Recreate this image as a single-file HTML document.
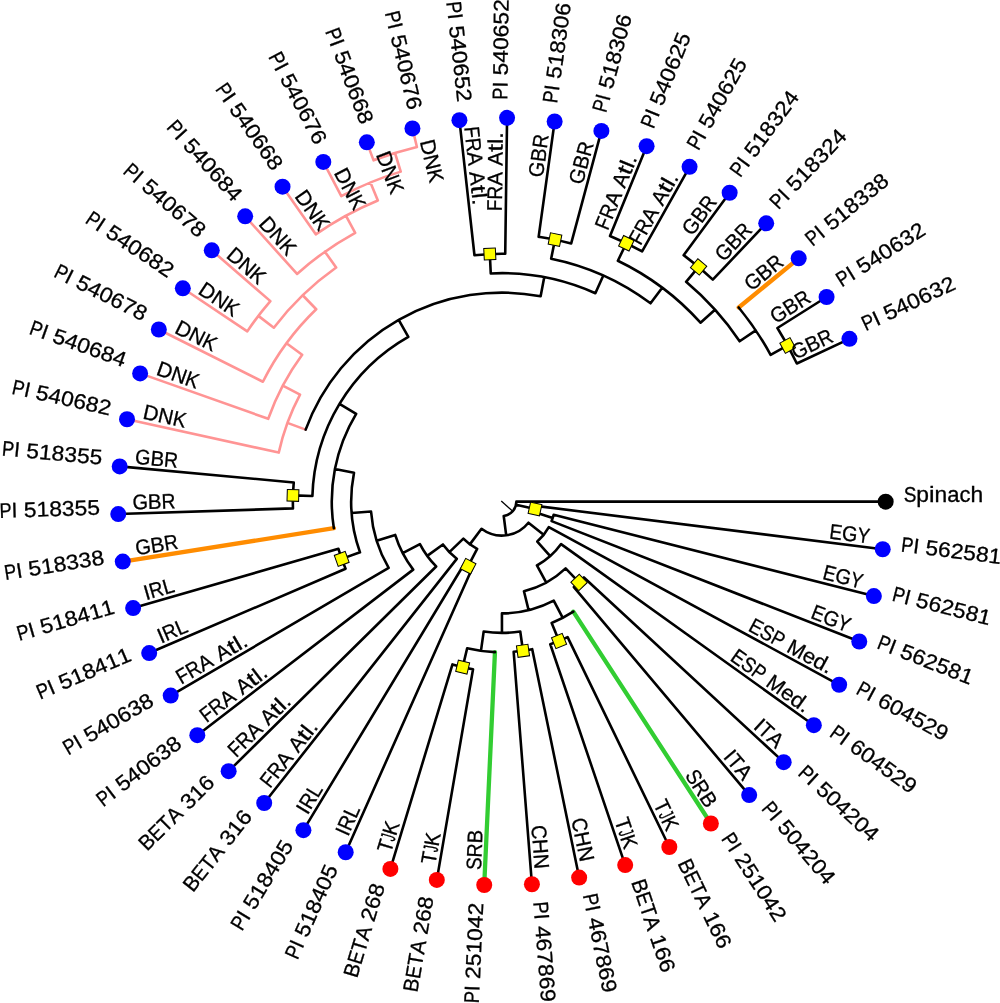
<!DOCTYPE html><html><head><meta charset="utf-8"><style>html,body{margin:0;padding:0;background:#fff;overflow:hidden}svg{display:block;will-change:transform}text{font-family:"Liberation Sans",sans-serif}</style></head><body><svg width="1000" height="1003" viewBox="0 0 1000 1003"><line x1="501.27" y1="501.1" x2="512.76" y2="511.21" stroke="#000" stroke-width="1.3"/><path d="M573.32,611.67L710.87,823.53" fill="none" stroke="#32cd32" stroke-width="4.3" stroke-linecap="round"/><path d="M494.95,652.12L484.23,885.02" fill="none" stroke="#32cd32" stroke-width="4.3" stroke-linecap="round"/><path d="M333.86,528.19L122.78,561.56" fill="none" stroke="#ff8c00" stroke-width="4.3" stroke-linecap="round"/><path d="M738.71,307.48L798.69,258.31" fill="none" stroke="#ff8c00" stroke-width="4.3" stroke-linecap="round"/><path d="M278.74,452.6A228.45,228.45 0 0 1 300.02,394.64M268.22,418.8A247.9,247.9 0 0 1 302.16,354.76M262.91,381.73A267.35,267.35 0 0 1 316.21,309.26M273.83,327.7A286.8,286.8 0 0 1 336.15,267.55M247.29,331.39A306.25,306.25 0 0 1 270.38,301.13M297.04,273.96A306.25,306.25 0 0 1 355.19,232.79M315.75,234.35A325.7,325.7 0 0 1 377.85,200.47M341.29,196.11A345.15,345.15 0 0 1 400.74,171.63M373.59,160.34A364.6,364.6 0 0 1 416.91,147.07M305.67,429.6L287.42,422.9M300.02,394.64L282.84,385.53M302.16,354.76L286.49,343.24M316.21,309.26L302.71,295.26M273.83,327.7L258.37,315.9M336.15,267.55L324.91,251.68M355.19,232.79L345.88,215.72M377.85,200.47L370.44,182.48M400.74,171.63L395.04,153.03M278.74,452.6L127.01,419.25M268.22,418.8L140.13,373.39M262.91,381.73L158.83,329.51M247.29,331.39L182.83,288.29M270.38,301.13L211.76,250.36M297.04,273.96L245.17,216.31M315.75,234.35L282.54,186.67M341.29,196.11L323.31,161.9M373.59,160.34L366.83,142.37M416.91,147.07L412.44,128.4" fill="none" stroke="#ff9494" stroke-width="2.6" stroke-linecap="round"/><path d="M516.37,501.63A14.5,14.5 0 0 1 503.72,516.01M535.56,505.84A33.95,33.95 0 0 1 534.19,512.02M553.63,514.78A53.4,53.4 0 0 1 551.6,521.09M528.45,522.75A33.95,33.95 0 0 1 481.51,528.8M548.8,527.11A53.4,53.4 0 0 1 537.3,541.58M561.08,544.07A72.85,72.85 0 0 1 536.93,565.49M565.62,568.38A92.3,92.3 0 0 1 523.96,591.25M583.92,577.49A111.75,111.75 0 0 1 573.88,587.08M553.73,600.62A111.75,111.75 0 0 1 501.94,613.38M573.32,611.67A131.2,131.2 0 0 1 551.67,623.01M567.6,637.18A150.65,150.65 0 0 1 550.28,644.29M520.25,631.54A131.2,131.2 0 0 1 483.66,631.56M532.21,649.19A150.65,150.65 0 0 1 513.67,651.82M494.95,652.12A150.65,150.65 0 0 1 467.16,648.23M473.03,669.27A170.1,170.1 0 0 1 452.46,664.4M477.15,548.96A53.4,53.4 0 0 1 463.38,538.64M472.23,568.18A72.85,72.85 0 0 1 464.2,563.98M456.76,558.83A72.85,72.85 0 0 1 442.94,544.46M436.16,566.45A92.3,92.3 0 0 1 419.93,544.12M413.2,569.64A111.75,111.75 0 0 1 395.2,534.93M388.66,567.94A131.2,131.2 0 0 1 371.04,511.5M360.01,552.34A150.65,150.65 0 0 1 354.01,472.78M345.57,568.73A170.1,170.1 0 0 1 338.45,548.83M333.86,528.19A170.1,170.1 0 0 1 356.16,413.86M312.4,495.99A189.55,189.55 0 0 1 408.31,336.78M292.98,508.4A209,209 0 0 1 293.75,482.44M305.67,429.6A209,209 0 0 1 540.62,296.25M490.77,273.45A228.45,228.45 0 0 1 595.36,293.19M474.46,255.25A247.9,247.9 0 0 1 505.23,253.75M551.15,258.68A247.9,247.9 0 0 1 650.54,303.26M538.63,236.82A267.35,267.35 0 0 1 571.19,243.42M617.88,260.76A267.35,267.35 0 0 1 700.5,322.68M610.02,236A286.8,286.8 0 0 1 642.13,251.47M686.1,281.83A286.8,286.8 0 0 1 739.64,341.26M683.63,255.15A306.25,306.25 0 0 1 712.8,279.6M738.71,307.48A306.25,306.25 0 0 1 770.61,354.77M777.42,327.99A325.7,325.7 0 0 1 796.83,363.51M516.03,504.76L535.02,508.96M534.19,512.02L552.71,517.97M503.72,516.01L506.21,535.3M528.45,522.75L543.68,534.85M537.3,541.58L550.21,556.13M536.93,565.49L546.28,582.54M565.62,568.38L579.05,582.44M523.96,591.25L528.61,610.13M553.73,600.62L562.76,617.85M551.67,623.01L559.05,641.01M501.94,613.38L501.96,632.83M520.25,631.54L522.98,650.79M483.66,631.56L480.96,650.82M467.16,648.23L462.67,667.15M481.51,528.8L469.85,544.36M477.15,548.96L468.15,566.21M463.38,538.64L449.36,552.12M442.94,544.46L427.21,555.9M419.93,544.12L402.67,553.08M395.2,534.93L376.63,540.73M371.04,511.5L351.65,512.97M360.01,552.34L341.7,558.89M354.01,472.78L334.92,469.06M356.16,413.86L339.5,403.82M312.4,495.99L292.96,495.41M408.31,336.78L398.71,319.86M540.62,296.25L544.23,277.14M490.77,273.45L489.82,254.02M595.36,293.19L603.32,275.44M551.15,258.68L555.01,239.61M650.54,303.26L662.21,287.7M617.88,260.76L626.32,243.24M700.5,322.68L714.95,309.67M686.1,281.83L698.59,266.92M739.64,341.26L755.77,330.38M770.61,354.77L787.68,345.45M516.37,501.63L885.67,501.63M535.56,505.84L882.71,549.24M553.63,514.78L873.86,596.11M551.6,521.09L859.27,641.53M548.8,527.11L839.15,684.78M561.08,544.07L813.83,725.2M583.92,577.49L783.68,762.17M573.88,587.08L749.19,795.12M567.6,637.18L669.33,846.97M550.28,644.29L625.19,865.08M532.21,649.19L579.16,877.57M513.67,651.82L531.93,884.25M473.03,669.27L436.81,879.88M452.46,664.4L390.39,868.88M472.23,568.18L345.7,852.22M464.2,563.98L303.41,830.14M456.76,558.83L264.2,802.98M436.16,566.45L228.65,771.17M413.2,569.64L197.32,735.2M388.66,567.94L170.7,695.62M345.57,568.73L149.2,653.04M338.45,548.83L133.14,608.12M292.98,508.4L118.27,514.07M293.75,482.44L119.69,466.39M474.46,255.25L459.43,120.18M505.23,253.75L507.07,117.87M538.63,236.82L554.64,121.47M571.19,243.42L601.39,130.96M610.02,236L646.6,146.16M642.13,251.47L689.57,166.86M683.63,255.15L729.65,192.73M712.8,279.6L766.21,223.37M777.42,327.99L826.58,297.01M796.83,363.51L849.45,338.87" fill="none" stroke="#000" stroke-width="2.6" stroke-linecap="round"/><rect x="-5.8" y="-5.8" width="11.6" height="11.6" fill="#ff0" stroke="#000" stroke-width="1" transform="translate(292.96,495.41) rotate(181.71)"/><rect x="-5.8" y="-5.8" width="11.6" height="11.6" fill="#ff0" stroke="#000" stroke-width="1" transform="translate(559.05,641.01) rotate(67.69)"/><rect x="-5.8" y="-5.8" width="11.6" height="11.6" fill="#ff0" stroke="#000" stroke-width="1" transform="translate(522.98,650.79) rotate(81.95)"/><rect x="-5.8" y="-5.8" width="11.6" height="11.6" fill="#ff0" stroke="#000" stroke-width="1" transform="translate(341.7,558.89) rotate(160.33)"/><rect x="-5.8" y="-5.8" width="11.6" height="11.6" fill="#ff0" stroke="#000" stroke-width="1" transform="translate(535.02,508.96) rotate(12.47)"/><rect x="-5.8" y="-5.8" width="11.6" height="11.6" fill="#ff0" stroke="#000" stroke-width="1" transform="translate(462.67,667.15) rotate(103.32)"/><rect x="-5.8" y="-5.8" width="11.6" height="11.6" fill="#ff0" stroke="#000" stroke-width="1" transform="translate(579.05,582.44) rotate(46.32)"/><rect x="-5.8" y="-5.8" width="11.6" height="11.6" fill="#ff0" stroke="#000" stroke-width="1" transform="translate(489.82,254.02) rotate(267.21)"/><rect x="-5.8" y="-5.8" width="11.6" height="11.6" fill="#ff0" stroke="#000" stroke-width="1" transform="translate(626.32,243.24) rotate(295.72)"/><rect x="-5.8" y="-5.8" width="11.6" height="11.6" fill="#ff0" stroke="#000" stroke-width="1" transform="translate(555.01,239.61) rotate(281.47)"/><rect x="-5.8" y="-5.8" width="11.6" height="11.6" fill="#ff0" stroke="#000" stroke-width="1" transform="translate(787.68,345.45) rotate(331.35)"/><rect x="-5.8" y="-5.8" width="11.6" height="11.6" fill="#ff0" stroke="#000" stroke-width="1" transform="translate(468.15,566.21) rotate(117.57)"/><rect x="-5.8" y="-5.8" width="11.6" height="11.6" fill="#ff0" stroke="#000" stroke-width="1" transform="translate(698.59,266.92) rotate(309.97)"/><circle cx="885.67" cy="501.63" r="8.0" fill="#000"/><circle cx="882.71" cy="549.24" r="8.0" fill="#00f"/><circle cx="873.86" cy="596.11" r="8.0" fill="#00f"/><circle cx="859.27" cy="641.53" r="8.0" fill="#00f"/><circle cx="839.15" cy="684.78" r="8.0" fill="#00f"/><circle cx="813.83" cy="725.2" r="8.0" fill="#00f"/><circle cx="783.68" cy="762.17" r="8.0" fill="#00f"/><circle cx="749.19" cy="795.12" r="8.0" fill="#00f"/><circle cx="710.87" cy="823.53" r="8.0" fill="#f00"/><circle cx="669.33" cy="846.97" r="8.0" fill="#f00"/><circle cx="625.19" cy="865.08" r="8.0" fill="#f00"/><circle cx="579.16" cy="877.57" r="8.0" fill="#f00"/><circle cx="531.93" cy="884.25" r="8.0" fill="#f00"/><circle cx="484.23" cy="885.02" r="8.0" fill="#f00"/><circle cx="436.81" cy="879.88" r="8.0" fill="#f00"/><circle cx="390.39" cy="868.88" r="8.0" fill="#f00"/><circle cx="345.7" cy="852.22" r="8.0" fill="#00f"/><circle cx="303.41" cy="830.14" r="8.0" fill="#00f"/><circle cx="264.2" cy="802.98" r="8.0" fill="#00f"/><circle cx="228.65" cy="771.17" r="8.0" fill="#00f"/><circle cx="197.32" cy="735.2" r="8.0" fill="#00f"/><circle cx="170.7" cy="695.62" r="8.0" fill="#00f"/><circle cx="149.2" cy="653.04" r="8.0" fill="#00f"/><circle cx="133.14" cy="608.12" r="8.0" fill="#00f"/><circle cx="122.78" cy="561.56" r="8.0" fill="#00f"/><circle cx="118.27" cy="514.07" r="8.0" fill="#00f"/><circle cx="119.69" cy="466.39" r="8.0" fill="#00f"/><circle cx="127.01" cy="419.25" r="8.0" fill="#00f"/><circle cx="140.13" cy="373.39" r="8.0" fill="#00f"/><circle cx="158.83" cy="329.51" r="8.0" fill="#00f"/><circle cx="182.83" cy="288.29" r="8.0" fill="#00f"/><circle cx="211.76" cy="250.36" r="8.0" fill="#00f"/><circle cx="245.17" cy="216.31" r="8.0" fill="#00f"/><circle cx="282.54" cy="186.67" r="8.0" fill="#00f"/><circle cx="323.31" cy="161.9" r="8.0" fill="#00f"/><circle cx="366.83" cy="142.37" r="8.0" fill="#00f"/><circle cx="412.44" cy="128.4" r="8.0" fill="#00f"/><circle cx="459.43" cy="120.18" r="8.0" fill="#00f"/><circle cx="507.07" cy="117.87" r="8.0" fill="#00f"/><circle cx="554.64" cy="121.47" r="8.0" fill="#00f"/><circle cx="601.39" cy="130.96" r="8.0" fill="#00f"/><circle cx="646.6" cy="146.16" r="8.0" fill="#00f"/><circle cx="689.57" cy="166.86" r="8.0" fill="#00f"/><circle cx="729.65" cy="192.73" r="8.0" fill="#00f"/><circle cx="766.21" cy="223.37" r="8.0" fill="#00f"/><circle cx="798.69" cy="258.31" r="8.0" fill="#00f"/><circle cx="826.58" cy="297.01" r="8.0" fill="#00f"/><circle cx="849.45" cy="338.87" r="8.0" fill="#00f"/><g font-size="21.2" fill="#000" stroke="#000" stroke-width="0.3"><text transform="translate(903.67,501.63) rotate(0)"><tspan x="0" textLength="12.7" lengthAdjust="spacingAndGlyphs">S</tspan><tspan x="12.7" textLength="12.7" lengthAdjust="spacingAndGlyphs">p</tspan><tspan x="25.39" textLength="5.56" lengthAdjust="spacingAndGlyphs">i</tspan><tspan x="30.95" textLength="12.68" lengthAdjust="spacingAndGlyphs">n</tspan><tspan x="43.62" textLength="12.26" lengthAdjust="spacingAndGlyphs">a</tspan><tspan x="55.88" textLength="11" lengthAdjust="spacingAndGlyphs">c</tspan><tspan x="66.88" textLength="12.68" lengthAdjust="spacingAndGlyphs">h</tspan></text><text transform="translate(900.57,551.47) rotate(7.13)"><tspan x="0" textLength="12.06" lengthAdjust="spacingAndGlyphs">P</tspan><tspan x="12.06" textLength="5.9" lengthAdjust="spacingAndGlyphs">I</tspan><tspan x="24.32" textLength="12.72" lengthAdjust="spacingAndGlyphs">5</tspan><tspan x="37.04" textLength="12.72" lengthAdjust="spacingAndGlyphs">6</tspan><tspan x="49.77" textLength="12.72" lengthAdjust="spacingAndGlyphs">2</tspan><tspan x="62.49" textLength="12.72" lengthAdjust="spacingAndGlyphs">5</tspan><tspan x="75.21" textLength="12.72" lengthAdjust="spacingAndGlyphs">8</tspan><tspan x="87.94" textLength="12.72" lengthAdjust="spacingAndGlyphs">1</tspan></text><text transform="translate(828.77,538.47) rotate(7.13)"><tspan x="0" textLength="12.64" lengthAdjust="spacingAndGlyphs">E</tspan><tspan x="12.64" textLength="15.5" lengthAdjust="spacingAndGlyphs">G</tspan><tspan x="28.13" textLength="12.22" lengthAdjust="spacingAndGlyphs">Y</tspan></text><text transform="translate(891.3,600.54) rotate(14.25)"><tspan x="0" textLength="12.06" lengthAdjust="spacingAndGlyphs">P</tspan><tspan x="12.06" textLength="5.9" lengthAdjust="spacingAndGlyphs">I</tspan><tspan x="24.32" textLength="12.72" lengthAdjust="spacingAndGlyphs">5</tspan><tspan x="37.04" textLength="12.72" lengthAdjust="spacingAndGlyphs">6</tspan><tspan x="49.77" textLength="12.72" lengthAdjust="spacingAndGlyphs">2</tspan><tspan x="62.49" textLength="12.72" lengthAdjust="spacingAndGlyphs">5</tspan><tspan x="75.21" textLength="12.72" lengthAdjust="spacingAndGlyphs">8</tspan><tspan x="87.94" textLength="12.72" lengthAdjust="spacingAndGlyphs">1</tspan></text><text transform="translate(821.68,578.73) rotate(14.25)"><tspan x="0" textLength="12.64" lengthAdjust="spacingAndGlyphs">E</tspan><tspan x="12.64" textLength="15.5" lengthAdjust="spacingAndGlyphs">G</tspan><tspan x="28.13" textLength="12.22" lengthAdjust="spacingAndGlyphs">Y</tspan></text><text transform="translate(876.03,648.09) rotate(21.38)"><tspan x="0" textLength="12.06" lengthAdjust="spacingAndGlyphs">P</tspan><tspan x="12.06" textLength="5.9" lengthAdjust="spacingAndGlyphs">I</tspan><tspan x="24.32" textLength="12.72" lengthAdjust="spacingAndGlyphs">5</tspan><tspan x="37.04" textLength="12.72" lengthAdjust="spacingAndGlyphs">6</tspan><tspan x="49.77" textLength="12.72" lengthAdjust="spacingAndGlyphs">2</tspan><tspan x="62.49" textLength="12.72" lengthAdjust="spacingAndGlyphs">5</tspan><tspan x="75.21" textLength="12.72" lengthAdjust="spacingAndGlyphs">8</tspan><tspan x="87.94" textLength="12.72" lengthAdjust="spacingAndGlyphs">1</tspan></text><text transform="translate(809.65,617.81) rotate(21.38)"><tspan x="0" textLength="12.64" lengthAdjust="spacingAndGlyphs">E</tspan><tspan x="12.64" textLength="15.5" lengthAdjust="spacingAndGlyphs">G</tspan><tspan x="28.13" textLength="12.22" lengthAdjust="spacingAndGlyphs">Y</tspan></text><text transform="translate(854.97,693.37) rotate(28.5)"><tspan x="0" textLength="12.06" lengthAdjust="spacingAndGlyphs">P</tspan><tspan x="12.06" textLength="5.9" lengthAdjust="spacingAndGlyphs">I</tspan><tspan x="24.32" textLength="12.72" lengthAdjust="spacingAndGlyphs">6</tspan><tspan x="37.04" textLength="12.72" lengthAdjust="spacingAndGlyphs">0</tspan><tspan x="49.77" textLength="12.72" lengthAdjust="spacingAndGlyphs">4</tspan><tspan x="62.49" textLength="12.72" lengthAdjust="spacingAndGlyphs">5</tspan><tspan x="75.21" textLength="12.72" lengthAdjust="spacingAndGlyphs">2</tspan><tspan x="87.94" textLength="12.72" lengthAdjust="spacingAndGlyphs">9</tspan></text><text transform="translate(747.15,630.27) rotate(28.5)"><tspan x="0" textLength="12.64" lengthAdjust="spacingAndGlyphs">E</tspan><tspan x="12.64" textLength="12.7" lengthAdjust="spacingAndGlyphs">S</tspan><tspan x="25.33" textLength="12.06" lengthAdjust="spacingAndGlyphs">P</tspan><tspan x="43.75" textLength="17.26" lengthAdjust="spacingAndGlyphs">M</tspan><tspan x="61.01" textLength="12.3" lengthAdjust="spacingAndGlyphs">e</tspan><tspan x="73.31" textLength="12.7" lengthAdjust="spacingAndGlyphs">d</tspan><tspan x="86.01" textLength="6.36" lengthAdjust="spacingAndGlyphs">.</tspan></text><text transform="translate(828.46,735.69) rotate(35.63)"><tspan x="0" textLength="12.06" lengthAdjust="spacingAndGlyphs">P</tspan><tspan x="12.06" textLength="5.9" lengthAdjust="spacingAndGlyphs">I</tspan><tspan x="24.32" textLength="12.72" lengthAdjust="spacingAndGlyphs">6</tspan><tspan x="37.04" textLength="12.72" lengthAdjust="spacingAndGlyphs">0</tspan><tspan x="49.77" textLength="12.72" lengthAdjust="spacingAndGlyphs">4</tspan><tspan x="62.49" textLength="12.72" lengthAdjust="spacingAndGlyphs">5</tspan><tspan x="75.21" textLength="12.72" lengthAdjust="spacingAndGlyphs">2</tspan><tspan x="87.94" textLength="12.72" lengthAdjust="spacingAndGlyphs">9</tspan></text><text transform="translate(729.3,659.7) rotate(35.63)"><tspan x="0" textLength="12.64" lengthAdjust="spacingAndGlyphs">E</tspan><tspan x="12.64" textLength="12.7" lengthAdjust="spacingAndGlyphs">S</tspan><tspan x="25.33" textLength="12.06" lengthAdjust="spacingAndGlyphs">P</tspan><tspan x="43.75" textLength="17.26" lengthAdjust="spacingAndGlyphs">M</tspan><tspan x="61.01" textLength="12.3" lengthAdjust="spacingAndGlyphs">e</tspan><tspan x="73.31" textLength="12.7" lengthAdjust="spacingAndGlyphs">d</tspan><tspan x="86.01" textLength="6.36" lengthAdjust="spacingAndGlyphs">.</tspan></text><text transform="translate(796.9,774.39) rotate(42.75)"><tspan x="0" textLength="12.06" lengthAdjust="spacingAndGlyphs">P</tspan><tspan x="12.06" textLength="5.9" lengthAdjust="spacingAndGlyphs">I</tspan><tspan x="24.32" textLength="12.72" lengthAdjust="spacingAndGlyphs">5</tspan><tspan x="37.04" textLength="12.72" lengthAdjust="spacingAndGlyphs">0</tspan><tspan x="49.77" textLength="12.72" lengthAdjust="spacingAndGlyphs">4</tspan><tspan x="62.49" textLength="12.72" lengthAdjust="spacingAndGlyphs">2</tspan><tspan x="75.21" textLength="12.72" lengthAdjust="spacingAndGlyphs">0</tspan><tspan x="87.94" textLength="12.72" lengthAdjust="spacingAndGlyphs">4</tspan></text><text transform="translate(752.4,727.81) rotate(42.75)"><tspan x="0" textLength="5.9" lengthAdjust="spacingAndGlyphs">I</tspan><tspan x="5.9" textLength="12.22" lengthAdjust="spacingAndGlyphs">T</tspan><tspan x="18.12" textLength="13.68" lengthAdjust="spacingAndGlyphs">A</tspan></text><text transform="translate(760.79,808.88) rotate(49.88)"><tspan x="0" textLength="12.06" lengthAdjust="spacingAndGlyphs">P</tspan><tspan x="12.06" textLength="5.9" lengthAdjust="spacingAndGlyphs">I</tspan><tspan x="24.32" textLength="12.72" lengthAdjust="spacingAndGlyphs">5</tspan><tspan x="37.04" textLength="12.72" lengthAdjust="spacingAndGlyphs">0</tspan><tspan x="49.77" textLength="12.72" lengthAdjust="spacingAndGlyphs">4</tspan><tspan x="62.49" textLength="12.72" lengthAdjust="spacingAndGlyphs">2</tspan><tspan x="75.21" textLength="12.72" lengthAdjust="spacingAndGlyphs">0</tspan><tspan x="87.94" textLength="12.72" lengthAdjust="spacingAndGlyphs">4</tspan></text><text transform="translate(722.41,757.14) rotate(49.88)"><tspan x="0" textLength="5.9" lengthAdjust="spacingAndGlyphs">I</tspan><tspan x="5.9" textLength="12.22" lengthAdjust="spacingAndGlyphs">T</tspan><tspan x="18.12" textLength="13.68" lengthAdjust="spacingAndGlyphs">A</tspan></text><text transform="translate(720.67,838.63) rotate(57.01)"><tspan x="0" textLength="12.06" lengthAdjust="spacingAndGlyphs">P</tspan><tspan x="12.06" textLength="5.9" lengthAdjust="spacingAndGlyphs">I</tspan><tspan x="24.32" textLength="12.72" lengthAdjust="spacingAndGlyphs">2</tspan><tspan x="37.04" textLength="12.72" lengthAdjust="spacingAndGlyphs">5</tspan><tspan x="49.77" textLength="12.72" lengthAdjust="spacingAndGlyphs">1</tspan><tspan x="62.49" textLength="12.72" lengthAdjust="spacingAndGlyphs">0</tspan><tspan x="75.21" textLength="12.72" lengthAdjust="spacingAndGlyphs">4</tspan><tspan x="87.94" textLength="12.72" lengthAdjust="spacingAndGlyphs">2</tspan></text><text transform="translate(684.38,775.38) rotate(57.01)"><tspan x="0" textLength="12.7" lengthAdjust="spacingAndGlyphs">S</tspan><tspan x="12.7" textLength="13.9" lengthAdjust="spacingAndGlyphs">R</tspan><tspan x="26.59" textLength="13.72" lengthAdjust="spacingAndGlyphs">B</tspan></text><text transform="translate(677.18,863.17) rotate(64.13)"><tspan x="0" textLength="13.72" lengthAdjust="spacingAndGlyphs">B</tspan><tspan x="13.72" textLength="12.64" lengthAdjust="spacingAndGlyphs">E</tspan><tspan x="26.36" textLength="12.22" lengthAdjust="spacingAndGlyphs">T</tspan><tspan x="38.57" textLength="13.68" lengthAdjust="spacingAndGlyphs">A</tspan><tspan x="58.61" textLength="12.72" lengthAdjust="spacingAndGlyphs">1</tspan><tspan x="71.34" textLength="12.72" lengthAdjust="spacingAndGlyphs">6</tspan><tspan x="84.06" textLength="12.72" lengthAdjust="spacingAndGlyphs">6</tspan></text><text transform="translate(652.97,804.08) rotate(64.13)"><tspan x="0" textLength="12.22" lengthAdjust="spacingAndGlyphs">T</tspan><tspan x="12.22" textLength="5.9" lengthAdjust="spacingAndGlyphs">J</tspan><tspan x="18.12" textLength="13.12" lengthAdjust="spacingAndGlyphs">K</tspan></text><text transform="translate(630.98,882.12) rotate(71.26)"><tspan x="0" textLength="13.72" lengthAdjust="spacingAndGlyphs">B</tspan><tspan x="13.72" textLength="12.64" lengthAdjust="spacingAndGlyphs">E</tspan><tspan x="26.36" textLength="12.22" lengthAdjust="spacingAndGlyphs">T</tspan><tspan x="38.57" textLength="13.68" lengthAdjust="spacingAndGlyphs">A</tspan><tspan x="58.61" textLength="12.72" lengthAdjust="spacingAndGlyphs">1</tspan><tspan x="71.34" textLength="12.72" lengthAdjust="spacingAndGlyphs">6</tspan><tspan x="84.06" textLength="12.72" lengthAdjust="spacingAndGlyphs">6</tspan></text><text transform="translate(614.29,820.49) rotate(71.26)"><tspan x="0" textLength="12.22" lengthAdjust="spacingAndGlyphs">T</tspan><tspan x="12.22" textLength="5.9" lengthAdjust="spacingAndGlyphs">J</tspan><tspan x="18.12" textLength="13.12" lengthAdjust="spacingAndGlyphs">K</tspan></text><text transform="translate(582.78,895.2) rotate(78.38)"><tspan x="0" textLength="12.06" lengthAdjust="spacingAndGlyphs">P</tspan><tspan x="12.06" textLength="5.9" lengthAdjust="spacingAndGlyphs">I</tspan><tspan x="24.32" textLength="12.72" lengthAdjust="spacingAndGlyphs">4</tspan><tspan x="37.04" textLength="12.72" lengthAdjust="spacingAndGlyphs">6</tspan><tspan x="49.77" textLength="12.72" lengthAdjust="spacingAndGlyphs">7</tspan><tspan x="62.49" textLength="12.72" lengthAdjust="spacingAndGlyphs">8</tspan><tspan x="75.21" textLength="12.72" lengthAdjust="spacingAndGlyphs">6</tspan><tspan x="87.94" textLength="12.72" lengthAdjust="spacingAndGlyphs">9</tspan></text><text transform="translate(571.3,819.5) rotate(78.38)"><tspan x="0" textLength="13.96" lengthAdjust="spacingAndGlyphs">C</tspan><tspan x="13.96" textLength="15.04" lengthAdjust="spacingAndGlyphs">H</tspan><tspan x="29" textLength="14.96" lengthAdjust="spacingAndGlyphs">N</tspan></text><text transform="translate(533.34,902.2) rotate(85.51)"><tspan x="0" textLength="12.06" lengthAdjust="spacingAndGlyphs">P</tspan><tspan x="12.06" textLength="5.9" lengthAdjust="spacingAndGlyphs">I</tspan><tspan x="24.32" textLength="12.72" lengthAdjust="spacingAndGlyphs">4</tspan><tspan x="37.04" textLength="12.72" lengthAdjust="spacingAndGlyphs">6</tspan><tspan x="49.77" textLength="12.72" lengthAdjust="spacingAndGlyphs">7</tspan><tspan x="62.49" textLength="12.72" lengthAdjust="spacingAndGlyphs">8</tspan><tspan x="75.21" textLength="12.72" lengthAdjust="spacingAndGlyphs">6</tspan><tspan x="87.94" textLength="12.72" lengthAdjust="spacingAndGlyphs">9</tspan></text><text transform="translate(531.34,825.65) rotate(85.51)"><tspan x="0" textLength="13.96" lengthAdjust="spacingAndGlyphs">C</tspan><tspan x="13.96" textLength="15.04" lengthAdjust="spacingAndGlyphs">H</tspan><tspan x="29" textLength="14.96" lengthAdjust="spacingAndGlyphs">N</tspan></text><text transform="translate(478.78,1003.56) rotate(272.63)"><tspan x="0" textLength="12.06" lengthAdjust="spacingAndGlyphs">P</tspan><tspan x="12.06" textLength="5.9" lengthAdjust="spacingAndGlyphs">I</tspan><tspan x="24.32" textLength="12.72" lengthAdjust="spacingAndGlyphs">2</tspan><tspan x="37.04" textLength="12.72" lengthAdjust="spacingAndGlyphs">5</tspan><tspan x="49.77" textLength="12.72" lengthAdjust="spacingAndGlyphs">1</tspan><tspan x="62.49" textLength="12.72" lengthAdjust="spacingAndGlyphs">0</tspan><tspan x="75.21" textLength="12.72" lengthAdjust="spacingAndGlyphs">4</tspan><tspan x="87.94" textLength="12.72" lengthAdjust="spacingAndGlyphs">2</tspan></text><text transform="translate(480.9,870.36) rotate(272.63)"><tspan x="0" textLength="12.7" lengthAdjust="spacingAndGlyphs">S</tspan><tspan x="12.7" textLength="13.9" lengthAdjust="spacingAndGlyphs">R</tspan><tspan x="26.59" textLength="13.72" lengthAdjust="spacingAndGlyphs">B</tspan></text><text transform="translate(417.35,993) rotate(279.76)"><tspan x="0" textLength="13.72" lengthAdjust="spacingAndGlyphs">B</tspan><tspan x="13.72" textLength="12.64" lengthAdjust="spacingAndGlyphs">E</tspan><tspan x="26.36" textLength="12.22" lengthAdjust="spacingAndGlyphs">T</tspan><tspan x="38.57" textLength="13.68" lengthAdjust="spacingAndGlyphs">A</tspan><tspan x="58.61" textLength="12.72" lengthAdjust="spacingAndGlyphs">2</tspan><tspan x="71.34" textLength="12.72" lengthAdjust="spacingAndGlyphs">6</tspan><tspan x="84.06" textLength="12.72" lengthAdjust="spacingAndGlyphs">8</tspan></text><text transform="translate(435.32,864.91) rotate(279.76)"><tspan x="0" textLength="12.22" lengthAdjust="spacingAndGlyphs">T</tspan><tspan x="12.22" textLength="5.9" lengthAdjust="spacingAndGlyphs">J</tspan><tspan x="18.12" textLength="13.12" lengthAdjust="spacingAndGlyphs">K</tspan></text><text transform="translate(357.05,978.72) rotate(286.89)"><tspan x="0" textLength="13.72" lengthAdjust="spacingAndGlyphs">B</tspan><tspan x="13.72" textLength="12.64" lengthAdjust="spacingAndGlyphs">E</tspan><tspan x="26.36" textLength="12.22" lengthAdjust="spacingAndGlyphs">T</tspan><tspan x="38.57" textLength="13.68" lengthAdjust="spacingAndGlyphs">A</tspan><tspan x="58.61" textLength="12.72" lengthAdjust="spacingAndGlyphs">2</tspan><tspan x="71.34" textLength="12.72" lengthAdjust="spacingAndGlyphs">6</tspan><tspan x="84.06" textLength="12.72" lengthAdjust="spacingAndGlyphs">8</tspan></text><text transform="translate(390.78,853.85) rotate(286.89)"><tspan x="0" textLength="12.22" lengthAdjust="spacingAndGlyphs">T</tspan><tspan x="12.22" textLength="5.9" lengthAdjust="spacingAndGlyphs">J</tspan><tspan x="18.12" textLength="13.12" lengthAdjust="spacingAndGlyphs">K</tspan></text><text transform="translate(297.41,960.61) rotate(294.01)"><tspan x="0" textLength="12.06" lengthAdjust="spacingAndGlyphs">P</tspan><tspan x="12.06" textLength="5.9" lengthAdjust="spacingAndGlyphs">I</tspan><tspan x="24.32" textLength="12.72" lengthAdjust="spacingAndGlyphs">5</tspan><tspan x="37.04" textLength="12.72" lengthAdjust="spacingAndGlyphs">1</tspan><tspan x="49.77" textLength="12.72" lengthAdjust="spacingAndGlyphs">8</tspan><tspan x="62.49" textLength="12.72" lengthAdjust="spacingAndGlyphs">4</tspan><tspan x="75.21" textLength="12.72" lengthAdjust="spacingAndGlyphs">0</tspan><tspan x="87.94" textLength="12.72" lengthAdjust="spacingAndGlyphs">5</tspan></text><text transform="translate(347.94,837.35) rotate(294.01)"><tspan x="0" textLength="5.9" lengthAdjust="spacingAndGlyphs">I</tspan><tspan x="5.9" textLength="13.9" lengthAdjust="spacingAndGlyphs">R</tspan><tspan x="19.79" textLength="11.14" lengthAdjust="spacingAndGlyphs">L</tspan></text><text transform="translate(242.05,931.71) rotate(301.14)"><tspan x="0" textLength="12.06" lengthAdjust="spacingAndGlyphs">P</tspan><tspan x="12.06" textLength="5.9" lengthAdjust="spacingAndGlyphs">I</tspan><tspan x="24.32" textLength="12.72" lengthAdjust="spacingAndGlyphs">5</tspan><tspan x="37.04" textLength="12.72" lengthAdjust="spacingAndGlyphs">1</tspan><tspan x="49.77" textLength="12.72" lengthAdjust="spacingAndGlyphs">8</tspan><tspan x="62.49" textLength="12.72" lengthAdjust="spacingAndGlyphs">4</tspan><tspan x="75.21" textLength="12.72" lengthAdjust="spacingAndGlyphs">0</tspan><tspan x="87.94" textLength="12.72" lengthAdjust="spacingAndGlyphs">5</tspan></text><text transform="translate(307.49,815.66) rotate(301.14)"><tspan x="0" textLength="5.9" lengthAdjust="spacingAndGlyphs">I</tspan><tspan x="5.9" textLength="13.9" lengthAdjust="spacingAndGlyphs">R</tspan><tspan x="19.79" textLength="11.14" lengthAdjust="spacingAndGlyphs">L</tspan></text><text transform="translate(193.11,893.11) rotate(308.26)"><tspan x="0" textLength="13.72" lengthAdjust="spacingAndGlyphs">B</tspan><tspan x="13.72" textLength="12.64" lengthAdjust="spacingAndGlyphs">E</tspan><tspan x="26.36" textLength="12.22" lengthAdjust="spacingAndGlyphs">T</tspan><tspan x="38.57" textLength="13.68" lengthAdjust="spacingAndGlyphs">A</tspan><tspan x="58.61" textLength="12.72" lengthAdjust="spacingAndGlyphs">3</tspan><tspan x="71.34" textLength="12.72" lengthAdjust="spacingAndGlyphs">1</tspan><tspan x="84.06" textLength="12.72" lengthAdjust="spacingAndGlyphs">6</tspan></text><text transform="translate(270.03,789.12) rotate(308.26)"><tspan x="0" textLength="11.5" lengthAdjust="spacingAndGlyphs">F</tspan><tspan x="11.5" textLength="13.9" lengthAdjust="spacingAndGlyphs">R</tspan><tspan x="25.4" textLength="13.68" lengthAdjust="spacingAndGlyphs">A</tspan><tspan x="45.44" textLength="13.68" lengthAdjust="spacingAndGlyphs">A</tspan><tspan x="59.12" textLength="7.84" lengthAdjust="spacingAndGlyphs">t</tspan><tspan x="66.96" textLength="5.56" lengthAdjust="spacingAndGlyphs">l</tspan><tspan x="72.52" textLength="6.36" lengthAdjust="spacingAndGlyphs">.</tspan></text><text transform="translate(146.93,851.79) rotate(315.39)"><tspan x="0" textLength="13.72" lengthAdjust="spacingAndGlyphs">B</tspan><tspan x="13.72" textLength="12.64" lengthAdjust="spacingAndGlyphs">E</tspan><tspan x="26.36" textLength="12.22" lengthAdjust="spacingAndGlyphs">T</tspan><tspan x="38.57" textLength="13.68" lengthAdjust="spacingAndGlyphs">A</tspan><tspan x="58.61" textLength="12.72" lengthAdjust="spacingAndGlyphs">3</tspan><tspan x="71.34" textLength="12.72" lengthAdjust="spacingAndGlyphs">1</tspan><tspan x="84.06" textLength="12.72" lengthAdjust="spacingAndGlyphs">6</tspan></text><text transform="translate(236.16,758.14) rotate(315.39)"><tspan x="0" textLength="11.5" lengthAdjust="spacingAndGlyphs">F</tspan><tspan x="11.5" textLength="13.9" lengthAdjust="spacingAndGlyphs">R</tspan><tspan x="25.4" textLength="13.68" lengthAdjust="spacingAndGlyphs">A</tspan><tspan x="45.44" textLength="13.68" lengthAdjust="spacingAndGlyphs">A</tspan><tspan x="59.12" textLength="7.84" lengthAdjust="spacingAndGlyphs">t</tspan><tspan x="66.96" textLength="5.56" lengthAdjust="spacingAndGlyphs">l</tspan><tspan x="72.52" textLength="6.36" lengthAdjust="spacingAndGlyphs">.</tspan></text><text transform="translate(103.16,807.41) rotate(322.51)"><tspan x="0" textLength="12.06" lengthAdjust="spacingAndGlyphs">P</tspan><tspan x="12.06" textLength="5.9" lengthAdjust="spacingAndGlyphs">I</tspan><tspan x="24.32" textLength="12.72" lengthAdjust="spacingAndGlyphs">5</tspan><tspan x="37.04" textLength="12.72" lengthAdjust="spacingAndGlyphs">4</tspan><tspan x="49.77" textLength="12.72" lengthAdjust="spacingAndGlyphs">0</tspan><tspan x="62.49" textLength="12.72" lengthAdjust="spacingAndGlyphs">6</tspan><tspan x="75.21" textLength="12.72" lengthAdjust="spacingAndGlyphs">3</tspan><tspan x="87.94" textLength="12.72" lengthAdjust="spacingAndGlyphs">8</tspan></text><text transform="translate(206.4,723.2) rotate(322.51)"><tspan x="0" textLength="11.5" lengthAdjust="spacingAndGlyphs">F</tspan><tspan x="11.5" textLength="13.9" lengthAdjust="spacingAndGlyphs">R</tspan><tspan x="25.4" textLength="13.68" lengthAdjust="spacingAndGlyphs">A</tspan><tspan x="45.44" textLength="13.68" lengthAdjust="spacingAndGlyphs">A</tspan><tspan x="59.12" textLength="7.84" lengthAdjust="spacingAndGlyphs">t</tspan><tspan x="66.96" textLength="5.56" lengthAdjust="spacingAndGlyphs">l</tspan><tspan x="72.52" textLength="6.36" lengthAdjust="spacingAndGlyphs">.</tspan></text><text transform="translate(68.31,755.59) rotate(329.64)"><tspan x="0" textLength="12.06" lengthAdjust="spacingAndGlyphs">P</tspan><tspan x="12.06" textLength="5.9" lengthAdjust="spacingAndGlyphs">I</tspan><tspan x="24.32" textLength="12.72" lengthAdjust="spacingAndGlyphs">5</tspan><tspan x="37.04" textLength="12.72" lengthAdjust="spacingAndGlyphs">4</tspan><tspan x="49.77" textLength="12.72" lengthAdjust="spacingAndGlyphs">0</tspan><tspan x="62.49" textLength="12.72" lengthAdjust="spacingAndGlyphs">6</tspan><tspan x="75.21" textLength="12.72" lengthAdjust="spacingAndGlyphs">3</tspan><tspan x="87.94" textLength="12.72" lengthAdjust="spacingAndGlyphs">8</tspan></text><text transform="translate(181.19,684.84) rotate(329.64)"><tspan x="0" textLength="11.5" lengthAdjust="spacingAndGlyphs">F</tspan><tspan x="11.5" textLength="13.9" lengthAdjust="spacingAndGlyphs">R</tspan><tspan x="25.4" textLength="13.68" lengthAdjust="spacingAndGlyphs">A</tspan><tspan x="45.44" textLength="13.68" lengthAdjust="spacingAndGlyphs">A</tspan><tspan x="59.12" textLength="7.84" lengthAdjust="spacingAndGlyphs">t</tspan><tspan x="66.96" textLength="5.56" lengthAdjust="spacingAndGlyphs">l</tspan><tspan x="72.52" textLength="6.36" lengthAdjust="spacingAndGlyphs">.</tspan></text><text transform="translate(40.16,699.85) rotate(336.77)"><tspan x="0" textLength="12.06" lengthAdjust="spacingAndGlyphs">P</tspan><tspan x="12.06" textLength="5.9" lengthAdjust="spacingAndGlyphs">I</tspan><tspan x="24.32" textLength="12.72" lengthAdjust="spacingAndGlyphs">5</tspan><tspan x="37.04" textLength="12.72" lengthAdjust="spacingAndGlyphs">1</tspan><tspan x="49.77" textLength="12.72" lengthAdjust="spacingAndGlyphs">8</tspan><tspan x="62.49" textLength="12.72" lengthAdjust="spacingAndGlyphs">4</tspan><tspan x="75.21" textLength="12.72" lengthAdjust="spacingAndGlyphs">1</tspan><tspan x="87.94" textLength="12.72" lengthAdjust="spacingAndGlyphs">1</tspan></text><text transform="translate(160.94,643.64) rotate(336.77)"><tspan x="0" textLength="5.9" lengthAdjust="spacingAndGlyphs">I</tspan><tspan x="5.9" textLength="13.9" lengthAdjust="spacingAndGlyphs">R</tspan><tspan x="19.79" textLength="11.14" lengthAdjust="spacingAndGlyphs">L</tspan></text><text transform="translate(19.13,641.05) rotate(343.89)"><tspan x="0" textLength="12.06" lengthAdjust="spacingAndGlyphs">P</tspan><tspan x="12.06" textLength="5.9" lengthAdjust="spacingAndGlyphs">I</tspan><tspan x="24.32" textLength="12.72" lengthAdjust="spacingAndGlyphs">5</tspan><tspan x="37.04" textLength="12.72" lengthAdjust="spacingAndGlyphs">1</tspan><tspan x="49.77" textLength="12.72" lengthAdjust="spacingAndGlyphs">8</tspan><tspan x="62.49" textLength="12.72" lengthAdjust="spacingAndGlyphs">4</tspan><tspan x="75.21" textLength="12.72" lengthAdjust="spacingAndGlyphs">1</tspan><tspan x="87.94" textLength="12.72" lengthAdjust="spacingAndGlyphs">1</tspan></text><text transform="translate(145.96,600.25) rotate(343.89)"><tspan x="0" textLength="5.9" lengthAdjust="spacingAndGlyphs">I</tspan><tspan x="5.9" textLength="13.9" lengthAdjust="spacingAndGlyphs">R</tspan><tspan x="19.79" textLength="11.14" lengthAdjust="spacingAndGlyphs">L</tspan></text><text transform="translate(5.57,580.09) rotate(351.02)"><tspan x="0" textLength="12.06" lengthAdjust="spacingAndGlyphs">P</tspan><tspan x="12.06" textLength="5.9" lengthAdjust="spacingAndGlyphs">I</tspan><tspan x="24.32" textLength="12.72" lengthAdjust="spacingAndGlyphs">5</tspan><tspan x="37.04" textLength="12.72" lengthAdjust="spacingAndGlyphs">1</tspan><tspan x="49.77" textLength="12.72" lengthAdjust="spacingAndGlyphs">8</tspan><tspan x="62.49" textLength="12.72" lengthAdjust="spacingAndGlyphs">3</tspan><tspan x="75.21" textLength="12.72" lengthAdjust="spacingAndGlyphs">3</tspan><tspan x="87.94" textLength="12.72" lengthAdjust="spacingAndGlyphs">8</tspan></text><text transform="translate(136.48,555.34) rotate(351.02)"><tspan x="0" textLength="15.5" lengthAdjust="spacingAndGlyphs">G</tspan><tspan x="15.5" textLength="13.72" lengthAdjust="spacingAndGlyphs">B</tspan><tspan x="29.22" textLength="13.9" lengthAdjust="spacingAndGlyphs">R</tspan></text><text transform="translate(-0.33,517.92) rotate(358.14)"><tspan x="0" textLength="12.06" lengthAdjust="spacingAndGlyphs">P</tspan><tspan x="12.06" textLength="5.9" lengthAdjust="spacingAndGlyphs">I</tspan><tspan x="24.32" textLength="12.72" lengthAdjust="spacingAndGlyphs">5</tspan><tspan x="37.04" textLength="12.72" lengthAdjust="spacingAndGlyphs">1</tspan><tspan x="49.77" textLength="12.72" lengthAdjust="spacingAndGlyphs">8</tspan><tspan x="62.49" textLength="12.72" lengthAdjust="spacingAndGlyphs">3</tspan><tspan x="75.21" textLength="12.72" lengthAdjust="spacingAndGlyphs">5</tspan><tspan x="87.94" textLength="12.72" lengthAdjust="spacingAndGlyphs">5</tspan></text><text transform="translate(132.63,509.6) rotate(358.14)"><tspan x="0" textLength="15.5" lengthAdjust="spacingAndGlyphs">G</tspan><tspan x="15.5" textLength="13.72" lengthAdjust="spacingAndGlyphs">B</tspan><tspan x="29.22" textLength="13.9" lengthAdjust="spacingAndGlyphs">R</tspan></text><text transform="translate(1.53,455.49) rotate(365.27)"><tspan x="0" textLength="12.06" lengthAdjust="spacingAndGlyphs">P</tspan><tspan x="12.06" textLength="5.9" lengthAdjust="spacingAndGlyphs">I</tspan><tspan x="24.32" textLength="12.72" lengthAdjust="spacingAndGlyphs">5</tspan><tspan x="37.04" textLength="12.72" lengthAdjust="spacingAndGlyphs">1</tspan><tspan x="49.77" textLength="12.72" lengthAdjust="spacingAndGlyphs">8</tspan><tspan x="62.49" textLength="12.72" lengthAdjust="spacingAndGlyphs">3</tspan><tspan x="75.21" textLength="12.72" lengthAdjust="spacingAndGlyphs">5</tspan><tspan x="87.94" textLength="12.72" lengthAdjust="spacingAndGlyphs">5</tspan></text><text transform="translate(134.5,463.74) rotate(365.27)"><tspan x="0" textLength="15.5" lengthAdjust="spacingAndGlyphs">G</tspan><tspan x="15.5" textLength="13.72" lengthAdjust="spacingAndGlyphs">B</tspan><tspan x="29.22" textLength="13.9" lengthAdjust="spacingAndGlyphs">R</tspan></text><text transform="translate(11.12,393.79) rotate(372.39)"><tspan x="0" textLength="12.06" lengthAdjust="spacingAndGlyphs">P</tspan><tspan x="12.06" textLength="5.9" lengthAdjust="spacingAndGlyphs">I</tspan><tspan x="24.32" textLength="12.72" lengthAdjust="spacingAndGlyphs">5</tspan><tspan x="37.04" textLength="12.72" lengthAdjust="spacingAndGlyphs">4</tspan><tspan x="49.77" textLength="12.72" lengthAdjust="spacingAndGlyphs">0</tspan><tspan x="62.49" textLength="12.72" lengthAdjust="spacingAndGlyphs">6</tspan><tspan x="75.21" textLength="12.72" lengthAdjust="spacingAndGlyphs">8</tspan><tspan x="87.94" textLength="12.72" lengthAdjust="spacingAndGlyphs">2</tspan></text><text transform="translate(142.04,418.46) rotate(372.39)"><tspan x="0" textLength="15.4" lengthAdjust="spacingAndGlyphs">D</tspan><tspan x="15.4" textLength="14.96" lengthAdjust="spacingAndGlyphs">N</tspan><tspan x="30.36" textLength="13.12" lengthAdjust="spacingAndGlyphs">K</tspan></text><text transform="translate(28.28,333.74) rotate(379.52)"><tspan x="0" textLength="12.06" lengthAdjust="spacingAndGlyphs">P</tspan><tspan x="12.06" textLength="5.9" lengthAdjust="spacingAndGlyphs">I</tspan><tspan x="24.32" textLength="12.72" lengthAdjust="spacingAndGlyphs">5</tspan><tspan x="37.04" textLength="12.72" lengthAdjust="spacingAndGlyphs">4</tspan><tspan x="49.77" textLength="12.72" lengthAdjust="spacingAndGlyphs">0</tspan><tspan x="62.49" textLength="12.72" lengthAdjust="spacingAndGlyphs">6</tspan><tspan x="75.21" textLength="12.72" lengthAdjust="spacingAndGlyphs">8</tspan><tspan x="87.94" textLength="12.72" lengthAdjust="spacingAndGlyphs">4</tspan></text><text transform="translate(155.13,374.47) rotate(379.52)"><tspan x="0" textLength="15.4" lengthAdjust="spacingAndGlyphs">D</tspan><tspan x="15.4" textLength="14.96" lengthAdjust="spacingAndGlyphs">N</tspan><tspan x="30.36" textLength="13.12" lengthAdjust="spacingAndGlyphs">K</tspan></text><text transform="translate(52.77,276.29) rotate(386.65)"><tspan x="0" textLength="12.06" lengthAdjust="spacingAndGlyphs">P</tspan><tspan x="12.06" textLength="5.9" lengthAdjust="spacingAndGlyphs">I</tspan><tspan x="24.32" textLength="12.72" lengthAdjust="spacingAndGlyphs">5</tspan><tspan x="37.04" textLength="12.72" lengthAdjust="spacingAndGlyphs">4</tspan><tspan x="49.77" textLength="12.72" lengthAdjust="spacingAndGlyphs">0</tspan><tspan x="62.49" textLength="12.72" lengthAdjust="spacingAndGlyphs">6</tspan><tspan x="75.21" textLength="12.72" lengthAdjust="spacingAndGlyphs">7</tspan><tspan x="87.94" textLength="12.72" lengthAdjust="spacingAndGlyphs">8</tspan></text><text transform="translate(173.58,332.44) rotate(386.65)"><tspan x="0" textLength="15.4" lengthAdjust="spacingAndGlyphs">D</tspan><tspan x="15.4" textLength="14.96" lengthAdjust="spacingAndGlyphs">N</tspan><tspan x="30.36" textLength="13.12" lengthAdjust="spacingAndGlyphs">K</tspan></text><text transform="translate(84.19,222.32) rotate(393.77)"><tspan x="0" textLength="12.06" lengthAdjust="spacingAndGlyphs">P</tspan><tspan x="12.06" textLength="5.9" lengthAdjust="spacingAndGlyphs">I</tspan><tspan x="24.32" textLength="12.72" lengthAdjust="spacingAndGlyphs">5</tspan><tspan x="37.04" textLength="12.72" lengthAdjust="spacingAndGlyphs">4</tspan><tspan x="49.77" textLength="12.72" lengthAdjust="spacingAndGlyphs">0</tspan><tspan x="62.49" textLength="12.72" lengthAdjust="spacingAndGlyphs">6</tspan><tspan x="75.21" textLength="12.72" lengthAdjust="spacingAndGlyphs">8</tspan><tspan x="87.94" textLength="12.72" lengthAdjust="spacingAndGlyphs">2</tspan></text><text transform="translate(197.11,293.02) rotate(393.77)"><tspan x="0" textLength="15.4" lengthAdjust="spacingAndGlyphs">D</tspan><tspan x="15.4" textLength="14.96" lengthAdjust="spacingAndGlyphs">N</tspan><tspan x="30.36" textLength="13.12" lengthAdjust="spacingAndGlyphs">K</tspan></text><text transform="translate(122.06,172.67) rotate(400.9)"><tspan x="0" textLength="12.06" lengthAdjust="spacingAndGlyphs">P</tspan><tspan x="12.06" textLength="5.9" lengthAdjust="spacingAndGlyphs">I</tspan><tspan x="24.32" textLength="12.72" lengthAdjust="spacingAndGlyphs">5</tspan><tspan x="37.04" textLength="12.72" lengthAdjust="spacingAndGlyphs">4</tspan><tspan x="49.77" textLength="12.72" lengthAdjust="spacingAndGlyphs">0</tspan><tspan x="62.49" textLength="12.72" lengthAdjust="spacingAndGlyphs">6</tspan><tspan x="75.21" textLength="12.72" lengthAdjust="spacingAndGlyphs">7</tspan><tspan x="87.94" textLength="12.72" lengthAdjust="spacingAndGlyphs">8</tspan></text><text transform="translate(225.34,256.83) rotate(400.9)"><tspan x="0" textLength="15.4" lengthAdjust="spacingAndGlyphs">D</tspan><tspan x="15.4" textLength="14.96" lengthAdjust="spacingAndGlyphs">N</tspan><tspan x="30.36" textLength="13.12" lengthAdjust="spacingAndGlyphs">K</tspan></text><text transform="translate(165.8,128.1) rotate(408.02)"><tspan x="0" textLength="12.06" lengthAdjust="spacingAndGlyphs">P</tspan><tspan x="12.06" textLength="5.9" lengthAdjust="spacingAndGlyphs">I</tspan><tspan x="24.32" textLength="12.72" lengthAdjust="spacingAndGlyphs">5</tspan><tspan x="37.04" textLength="12.72" lengthAdjust="spacingAndGlyphs">4</tspan><tspan x="49.77" textLength="12.72" lengthAdjust="spacingAndGlyphs">0</tspan><tspan x="62.49" textLength="12.72" lengthAdjust="spacingAndGlyphs">6</tspan><tspan x="75.21" textLength="12.72" lengthAdjust="spacingAndGlyphs">8</tspan><tspan x="87.94" textLength="12.72" lengthAdjust="spacingAndGlyphs">4</tspan></text><text transform="translate(257.84,224.41) rotate(408.02)"><tspan x="0" textLength="15.4" lengthAdjust="spacingAndGlyphs">D</tspan><tspan x="15.4" textLength="14.96" lengthAdjust="spacingAndGlyphs">N</tspan><tspan x="30.36" textLength="13.12" lengthAdjust="spacingAndGlyphs">K</tspan></text><text transform="translate(214.73,89.29) rotate(415.15)"><tspan x="0" textLength="12.06" lengthAdjust="spacingAndGlyphs">P</tspan><tspan x="12.06" textLength="5.9" lengthAdjust="spacingAndGlyphs">I</tspan><tspan x="24.32" textLength="12.72" lengthAdjust="spacingAndGlyphs">5</tspan><tspan x="37.04" textLength="12.72" lengthAdjust="spacingAndGlyphs">4</tspan><tspan x="49.77" textLength="12.72" lengthAdjust="spacingAndGlyphs">0</tspan><tspan x="62.49" textLength="12.72" lengthAdjust="spacingAndGlyphs">6</tspan><tspan x="75.21" textLength="12.72" lengthAdjust="spacingAndGlyphs">6</tspan><tspan x="87.94" textLength="12.72" lengthAdjust="spacingAndGlyphs">8</tspan></text><text transform="translate(294.11,196.28) rotate(415.15)"><tspan x="0" textLength="15.4" lengthAdjust="spacingAndGlyphs">D</tspan><tspan x="15.4" textLength="14.96" lengthAdjust="spacingAndGlyphs">N</tspan><tspan x="30.36" textLength="13.12" lengthAdjust="spacingAndGlyphs">K</tspan></text><text transform="translate(268.1,56.86) rotate(422.27)"><tspan x="0" textLength="12.06" lengthAdjust="spacingAndGlyphs">P</tspan><tspan x="12.06" textLength="5.9" lengthAdjust="spacingAndGlyphs">I</tspan><tspan x="24.32" textLength="12.72" lengthAdjust="spacingAndGlyphs">5</tspan><tspan x="37.04" textLength="12.72" lengthAdjust="spacingAndGlyphs">4</tspan><tspan x="49.77" textLength="12.72" lengthAdjust="spacingAndGlyphs">0</tspan><tspan x="62.49" textLength="12.72" lengthAdjust="spacingAndGlyphs">6</tspan><tspan x="75.21" textLength="12.72" lengthAdjust="spacingAndGlyphs">7</tspan><tspan x="87.94" textLength="12.72" lengthAdjust="spacingAndGlyphs">6</tspan></text><text transform="translate(333.6,172.87) rotate(422.27)"><tspan x="0" textLength="15.4" lengthAdjust="spacingAndGlyphs">D</tspan><tspan x="15.4" textLength="14.96" lengthAdjust="spacingAndGlyphs">N</tspan><tspan x="30.36" textLength="13.12" lengthAdjust="spacingAndGlyphs">K</tspan></text><text transform="translate(325.08,31.3) rotate(429.4)"><tspan x="0" textLength="12.06" lengthAdjust="spacingAndGlyphs">P</tspan><tspan x="12.06" textLength="5.9" lengthAdjust="spacingAndGlyphs">I</tspan><tspan x="24.32" textLength="12.72" lengthAdjust="spacingAndGlyphs">5</tspan><tspan x="37.04" textLength="12.72" lengthAdjust="spacingAndGlyphs">4</tspan><tspan x="49.77" textLength="12.72" lengthAdjust="spacingAndGlyphs">0</tspan><tspan x="62.49" textLength="12.72" lengthAdjust="spacingAndGlyphs">6</tspan><tspan x="75.21" textLength="12.72" lengthAdjust="spacingAndGlyphs">6</tspan><tspan x="87.94" textLength="12.72" lengthAdjust="spacingAndGlyphs">8</tspan></text><text transform="translate(375.68,154.54) rotate(429.4)"><tspan x="0" textLength="15.4" lengthAdjust="spacingAndGlyphs">D</tspan><tspan x="15.4" textLength="14.96" lengthAdjust="spacingAndGlyphs">N</tspan><tspan x="30.36" textLength="13.12" lengthAdjust="spacingAndGlyphs">K</tspan></text><text transform="translate(384.79,13) rotate(436.53)"><tspan x="0" textLength="12.06" lengthAdjust="spacingAndGlyphs">P</tspan><tspan x="12.06" textLength="5.9" lengthAdjust="spacingAndGlyphs">I</tspan><tspan x="24.32" textLength="12.72" lengthAdjust="spacingAndGlyphs">5</tspan><tspan x="37.04" textLength="12.72" lengthAdjust="spacingAndGlyphs">4</tspan><tspan x="49.77" textLength="12.72" lengthAdjust="spacingAndGlyphs">0</tspan><tspan x="62.49" textLength="12.72" lengthAdjust="spacingAndGlyphs">6</tspan><tspan x="75.21" textLength="12.72" lengthAdjust="spacingAndGlyphs">7</tspan><tspan x="87.94" textLength="12.72" lengthAdjust="spacingAndGlyphs">6</tspan></text><text transform="translate(419.71,141.56) rotate(436.53)"><tspan x="0" textLength="15.4" lengthAdjust="spacingAndGlyphs">D</tspan><tspan x="15.4" textLength="14.96" lengthAdjust="spacingAndGlyphs">N</tspan><tspan x="30.36" textLength="13.12" lengthAdjust="spacingAndGlyphs">K</tspan></text><text transform="translate(446.3,2.25) rotate(443.65)"><tspan x="0" textLength="12.06" lengthAdjust="spacingAndGlyphs">P</tspan><tspan x="12.06" textLength="5.9" lengthAdjust="spacingAndGlyphs">I</tspan><tspan x="24.32" textLength="12.72" lengthAdjust="spacingAndGlyphs">5</tspan><tspan x="37.04" textLength="12.72" lengthAdjust="spacingAndGlyphs">4</tspan><tspan x="49.77" textLength="12.72" lengthAdjust="spacingAndGlyphs">0</tspan><tspan x="62.49" textLength="12.72" lengthAdjust="spacingAndGlyphs">6</tspan><tspan x="75.21" textLength="12.72" lengthAdjust="spacingAndGlyphs">5</tspan><tspan x="87.94" textLength="12.72" lengthAdjust="spacingAndGlyphs">2</tspan></text><text transform="translate(464.23,127.2) rotate(443.65)"><tspan x="0" textLength="11.5" lengthAdjust="spacingAndGlyphs">F</tspan><tspan x="11.5" textLength="13.9" lengthAdjust="spacingAndGlyphs">R</tspan><tspan x="25.4" textLength="13.68" lengthAdjust="spacingAndGlyphs">A</tspan><tspan x="45.44" textLength="13.68" lengthAdjust="spacingAndGlyphs">A</tspan><tspan x="59.12" textLength="7.84" lengthAdjust="spacingAndGlyphs">t</tspan><tspan x="66.96" textLength="5.56" lengthAdjust="spacingAndGlyphs">l</tspan><tspan x="72.52" textLength="6.36" lengthAdjust="spacingAndGlyphs">.</tspan></text><text transform="translate(507.32,99.87) rotate(270.78)"><tspan x="0" textLength="12.06" lengthAdjust="spacingAndGlyphs">P</tspan><tspan x="12.06" textLength="5.9" lengthAdjust="spacingAndGlyphs">I</tspan><tspan x="24.32" textLength="12.72" lengthAdjust="spacingAndGlyphs">5</tspan><tspan x="37.04" textLength="12.72" lengthAdjust="spacingAndGlyphs">4</tspan><tspan x="49.77" textLength="12.72" lengthAdjust="spacingAndGlyphs">0</tspan><tspan x="62.49" textLength="12.72" lengthAdjust="spacingAndGlyphs">6</tspan><tspan x="75.21" textLength="12.72" lengthAdjust="spacingAndGlyphs">5</tspan><tspan x="87.94" textLength="12.72" lengthAdjust="spacingAndGlyphs">2</tspan></text><text transform="translate(501.81,211.18) rotate(270.78)"><tspan x="0" textLength="11.5" lengthAdjust="spacingAndGlyphs">F</tspan><tspan x="11.5" textLength="13.9" lengthAdjust="spacingAndGlyphs">R</tspan><tspan x="25.4" textLength="13.68" lengthAdjust="spacingAndGlyphs">A</tspan><tspan x="45.44" textLength="13.68" lengthAdjust="spacingAndGlyphs">A</tspan><tspan x="59.12" textLength="7.84" lengthAdjust="spacingAndGlyphs">t</tspan><tspan x="66.96" textLength="5.56" lengthAdjust="spacingAndGlyphs">l</tspan><tspan x="72.52" textLength="6.36" lengthAdjust="spacingAndGlyphs">.</tspan></text><text transform="translate(557.11,103.65) rotate(277.9)"><tspan x="0" textLength="12.06" lengthAdjust="spacingAndGlyphs">P</tspan><tspan x="12.06" textLength="5.9" lengthAdjust="spacingAndGlyphs">I</tspan><tspan x="24.32" textLength="12.72" lengthAdjust="spacingAndGlyphs">5</tspan><tspan x="37.04" textLength="12.72" lengthAdjust="spacingAndGlyphs">1</tspan><tspan x="49.77" textLength="12.72" lengthAdjust="spacingAndGlyphs">8</tspan><tspan x="62.49" textLength="12.72" lengthAdjust="spacingAndGlyphs">3</tspan><tspan x="75.21" textLength="12.72" lengthAdjust="spacingAndGlyphs">0</tspan><tspan x="87.94" textLength="12.72" lengthAdjust="spacingAndGlyphs">6</tspan></text><text transform="translate(542.75,177.99) rotate(277.9)"><tspan x="0" textLength="15.5" lengthAdjust="spacingAndGlyphs">G</tspan><tspan x="15.5" textLength="13.72" lengthAdjust="spacingAndGlyphs">B</tspan><tspan x="29.22" textLength="13.9" lengthAdjust="spacingAndGlyphs">R</tspan></text><text transform="translate(606.05,113.57) rotate(285.03)"><tspan x="0" textLength="12.06" lengthAdjust="spacingAndGlyphs">P</tspan><tspan x="12.06" textLength="5.9" lengthAdjust="spacingAndGlyphs">I</tspan><tspan x="24.32" textLength="12.72" lengthAdjust="spacingAndGlyphs">5</tspan><tspan x="37.04" textLength="12.72" lengthAdjust="spacingAndGlyphs">1</tspan><tspan x="49.77" textLength="12.72" lengthAdjust="spacingAndGlyphs">8</tspan><tspan x="62.49" textLength="12.72" lengthAdjust="spacingAndGlyphs">3</tspan><tspan x="75.21" textLength="12.72" lengthAdjust="spacingAndGlyphs">0</tspan><tspan x="87.94" textLength="12.72" lengthAdjust="spacingAndGlyphs">6</tspan></text><text transform="translate(582.58,185.56) rotate(285.03)"><tspan x="0" textLength="15.5" lengthAdjust="spacingAndGlyphs">G</tspan><tspan x="15.5" textLength="13.72" lengthAdjust="spacingAndGlyphs">B</tspan><tspan x="29.22" textLength="13.9" lengthAdjust="spacingAndGlyphs">R</tspan></text><text transform="translate(653.39,129.49) rotate(292.15)"><tspan x="0" textLength="12.06" lengthAdjust="spacingAndGlyphs">P</tspan><tspan x="12.06" textLength="5.9" lengthAdjust="spacingAndGlyphs">I</tspan><tspan x="24.32" textLength="12.72" lengthAdjust="spacingAndGlyphs">5</tspan><tspan x="37.04" textLength="12.72" lengthAdjust="spacingAndGlyphs">4</tspan><tspan x="49.77" textLength="12.72" lengthAdjust="spacingAndGlyphs">0</tspan><tspan x="62.49" textLength="12.72" lengthAdjust="spacingAndGlyphs">6</tspan><tspan x="75.21" textLength="12.72" lengthAdjust="spacingAndGlyphs">2</tspan><tspan x="87.94" textLength="12.72" lengthAdjust="spacingAndGlyphs">5</tspan></text><text transform="translate(607.68,231.14) rotate(292.15)"><tspan x="0" textLength="11.5" lengthAdjust="spacingAndGlyphs">F</tspan><tspan x="11.5" textLength="13.9" lengthAdjust="spacingAndGlyphs">R</tspan><tspan x="25.4" textLength="13.68" lengthAdjust="spacingAndGlyphs">A</tspan><tspan x="45.44" textLength="13.68" lengthAdjust="spacingAndGlyphs">A</tspan><tspan x="59.12" textLength="7.84" lengthAdjust="spacingAndGlyphs">t</tspan><tspan x="66.96" textLength="5.56" lengthAdjust="spacingAndGlyphs">l</tspan><tspan x="72.52" textLength="6.36" lengthAdjust="spacingAndGlyphs">.</tspan></text><text transform="translate(698.38,151.16) rotate(299.28)"><tspan x="0" textLength="12.06" lengthAdjust="spacingAndGlyphs">P</tspan><tspan x="12.06" textLength="5.9" lengthAdjust="spacingAndGlyphs">I</tspan><tspan x="24.32" textLength="12.72" lengthAdjust="spacingAndGlyphs">5</tspan><tspan x="37.04" textLength="12.72" lengthAdjust="spacingAndGlyphs">4</tspan><tspan x="49.77" textLength="12.72" lengthAdjust="spacingAndGlyphs">0</tspan><tspan x="62.49" textLength="12.72" lengthAdjust="spacingAndGlyphs">6</tspan><tspan x="75.21" textLength="12.72" lengthAdjust="spacingAndGlyphs">2</tspan><tspan x="87.94" textLength="12.72" lengthAdjust="spacingAndGlyphs">5</tspan></text><text transform="translate(640.42,246.35) rotate(299.28)"><tspan x="0" textLength="11.5" lengthAdjust="spacingAndGlyphs">F</tspan><tspan x="11.5" textLength="13.9" lengthAdjust="spacingAndGlyphs">R</tspan><tspan x="25.4" textLength="13.68" lengthAdjust="spacingAndGlyphs">A</tspan><tspan x="45.44" textLength="13.68" lengthAdjust="spacingAndGlyphs">A</tspan><tspan x="59.12" textLength="7.84" lengthAdjust="spacingAndGlyphs">t</tspan><tspan x="66.96" textLength="5.56" lengthAdjust="spacingAndGlyphs">l</tspan><tspan x="72.52" textLength="6.36" lengthAdjust="spacingAndGlyphs">.</tspan></text><text transform="translate(740.33,178.24) rotate(306.41)"><tspan x="0" textLength="12.06" lengthAdjust="spacingAndGlyphs">P</tspan><tspan x="12.06" textLength="5.9" lengthAdjust="spacingAndGlyphs">I</tspan><tspan x="24.32" textLength="12.72" lengthAdjust="spacingAndGlyphs">5</tspan><tspan x="37.04" textLength="12.72" lengthAdjust="spacingAndGlyphs">1</tspan><tspan x="49.77" textLength="12.72" lengthAdjust="spacingAndGlyphs">8</tspan><tspan x="62.49" textLength="12.72" lengthAdjust="spacingAndGlyphs">3</tspan><tspan x="75.21" textLength="12.72" lengthAdjust="spacingAndGlyphs">2</tspan><tspan x="87.94" textLength="12.72" lengthAdjust="spacingAndGlyphs">4</tspan></text><text transform="translate(692.24,236.73) rotate(306.41)"><tspan x="0" textLength="15.5" lengthAdjust="spacingAndGlyphs">G</tspan><tspan x="15.5" textLength="13.72" lengthAdjust="spacingAndGlyphs">B</tspan><tspan x="29.22" textLength="13.9" lengthAdjust="spacingAndGlyphs">R</tspan></text><text transform="translate(778.61,210.32) rotate(313.53)"><tspan x="0" textLength="12.06" lengthAdjust="spacingAndGlyphs">P</tspan><tspan x="12.06" textLength="5.9" lengthAdjust="spacingAndGlyphs">I</tspan><tspan x="24.32" textLength="12.72" lengthAdjust="spacingAndGlyphs">5</tspan><tspan x="37.04" textLength="12.72" lengthAdjust="spacingAndGlyphs">1</tspan><tspan x="49.77" textLength="12.72" lengthAdjust="spacingAndGlyphs">8</tspan><tspan x="62.49" textLength="12.72" lengthAdjust="spacingAndGlyphs">3</tspan><tspan x="75.21" textLength="12.72" lengthAdjust="spacingAndGlyphs">2</tspan><tspan x="87.94" textLength="12.72" lengthAdjust="spacingAndGlyphs">4</tspan></text><text transform="translate(723.63,262.39) rotate(313.53)"><tspan x="0" textLength="15.5" lengthAdjust="spacingAndGlyphs">G</tspan><tspan x="15.5" textLength="13.72" lengthAdjust="spacingAndGlyphs">B</tspan><tspan x="29.22" textLength="13.9" lengthAdjust="spacingAndGlyphs">R</tspan></text><text transform="translate(812.61,246.9) rotate(320.66)"><tspan x="0" textLength="12.06" lengthAdjust="spacingAndGlyphs">P</tspan><tspan x="12.06" textLength="5.9" lengthAdjust="spacingAndGlyphs">I</tspan><tspan x="24.32" textLength="12.72" lengthAdjust="spacingAndGlyphs">5</tspan><tspan x="37.04" textLength="12.72" lengthAdjust="spacingAndGlyphs">1</tspan><tspan x="49.77" textLength="12.72" lengthAdjust="spacingAndGlyphs">8</tspan><tspan x="62.49" textLength="12.72" lengthAdjust="spacingAndGlyphs">3</tspan><tspan x="75.21" textLength="12.72" lengthAdjust="spacingAndGlyphs">3</tspan><tspan x="87.94" textLength="12.72" lengthAdjust="spacingAndGlyphs">8</tspan></text><text transform="translate(751.59,291.75) rotate(320.66)"><tspan x="0" textLength="15.5" lengthAdjust="spacingAndGlyphs">G</tspan><tspan x="15.5" textLength="13.72" lengthAdjust="spacingAndGlyphs">B</tspan><tspan x="29.22" textLength="13.9" lengthAdjust="spacingAndGlyphs">R</tspan></text><text transform="translate(841.8,287.41) rotate(327.78)"><tspan x="0" textLength="12.06" lengthAdjust="spacingAndGlyphs">P</tspan><tspan x="12.06" textLength="5.9" lengthAdjust="spacingAndGlyphs">I</tspan><tspan x="24.32" textLength="12.72" lengthAdjust="spacingAndGlyphs">5</tspan><tspan x="37.04" textLength="12.72" lengthAdjust="spacingAndGlyphs">4</tspan><tspan x="49.77" textLength="12.72" lengthAdjust="spacingAndGlyphs">0</tspan><tspan x="62.49" textLength="12.72" lengthAdjust="spacingAndGlyphs">6</tspan><tspan x="75.21" textLength="12.72" lengthAdjust="spacingAndGlyphs">3</tspan><tspan x="87.94" textLength="12.72" lengthAdjust="spacingAndGlyphs">2</tspan></text><text transform="translate(775.7,324.34) rotate(327.78)"><tspan x="0" textLength="15.5" lengthAdjust="spacingAndGlyphs">G</tspan><tspan x="15.5" textLength="13.72" lengthAdjust="spacingAndGlyphs">B</tspan><tspan x="29.22" textLength="13.9" lengthAdjust="spacingAndGlyphs">R</tspan></text><text transform="translate(865.75,331.24) rotate(334.91)"><tspan x="0" textLength="12.06" lengthAdjust="spacingAndGlyphs">P</tspan><tspan x="12.06" textLength="5.9" lengthAdjust="spacingAndGlyphs">I</tspan><tspan x="24.32" textLength="12.72" lengthAdjust="spacingAndGlyphs">5</tspan><tspan x="37.04" textLength="12.72" lengthAdjust="spacingAndGlyphs">4</tspan><tspan x="49.77" textLength="12.72" lengthAdjust="spacingAndGlyphs">0</tspan><tspan x="62.49" textLength="12.72" lengthAdjust="spacingAndGlyphs">6</tspan><tspan x="75.21" textLength="12.72" lengthAdjust="spacingAndGlyphs">3</tspan><tspan x="87.94" textLength="12.72" lengthAdjust="spacingAndGlyphs">2</tspan></text><text transform="translate(795.58,359.68) rotate(334.91)"><tspan x="0" textLength="15.5" lengthAdjust="spacingAndGlyphs">G</tspan><tspan x="15.5" textLength="13.72" lengthAdjust="spacingAndGlyphs">B</tspan><tspan x="29.22" textLength="13.9" lengthAdjust="spacingAndGlyphs">R</tspan></text></g></svg></body></html>
